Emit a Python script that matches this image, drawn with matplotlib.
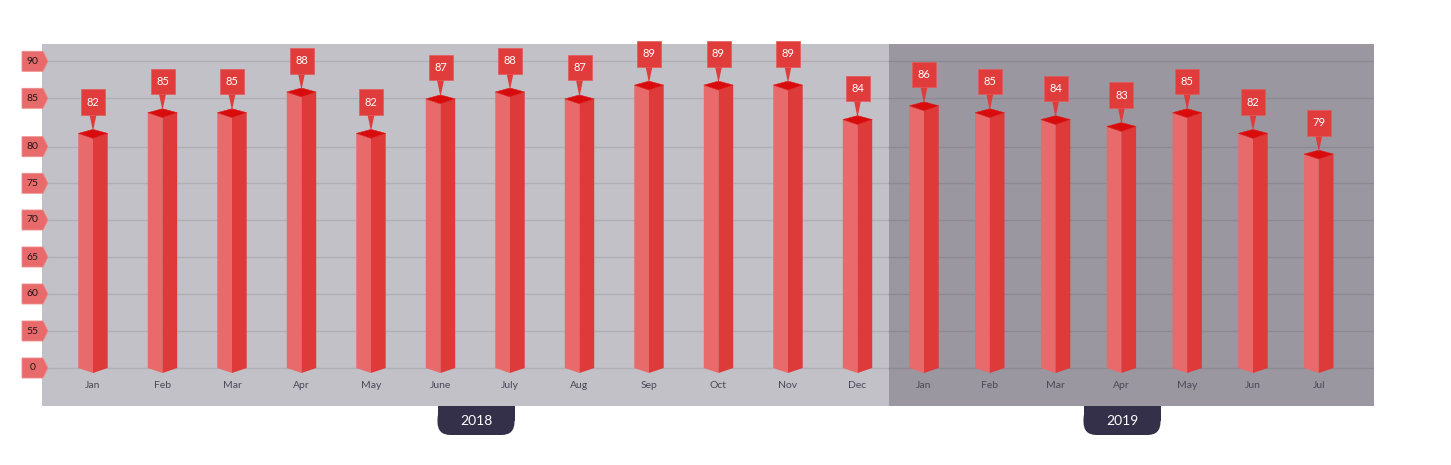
import matplotlib
matplotlib.use("Agg")
import matplotlib.pyplot as plt
from matplotlib.patches import Polygon, Rectangle, FancyBboxPatch
import matplotlib.transforms as mtransforms

# ---- data ----
months_2018 = ["Jan", "Feb", "Mar", "Apr", "May", "June", "July", "Aug", "Sep", "Oct", "Nov", "Dec"]
values_2018 = [82, 85, 85, 88, 82, 87, 88, 87, 89, 89, 89, 84]
months_2019 = ["Jan", "Feb", "Mar", "Apr", "May", "Jun", "Jul"]
values_2019 = [86, 85, 84, 83, 85, 82, 79]
years = ["2018", "2019"]
ytick_labels = ["0", "55", "60", "65", "70", "75", "80", "85", "90"]

# ---- layout (positions / style) ----
W, H = 1451, 465
fig = plt.figure(figsize=(W / 100, H / 100), dpi=100)
fig.patch.set_facecolor("white")
ax_l, ax_r, ax_t, ax_b = 42, 1374, 44, 406
ax = fig.add_axes([ax_l / W, 1 - ax_b / H, (ax_r - ax_l) / W, (ax_b - ax_t) / H])

BASE = 48.0      # value drawn at the bar foot
BASE_PX = 368
ppu = 6.9        # px per y unit
ylo = BASE - (ax_b - BASE_PX) / ppu
yhi = BASE + (BASE_PX - ax_t) / ppu
xpx = 69.5
x0 = -(93 - ax_l) / xpx
x1 = (ax_r - 93) / xpx
ax.set_xlim(x0, x1)
ax.set_ylim(ylo, yhi)
ax.axis("off")

pos_2018 = [i for i in range(len(values_2018))]
pos_2019 = [(924 - 93) / xpx + j * 65.8 / xpx for j in range(len(values_2019))]
split = (889 - 93) / xpx

bg18, bg19 = "#c2c1c7", "#9b97a0"
ax.add_patch(Rectangle((x0, ylo), split - x0, yhi - ylo, facecolor=bg18, edgecolor="none", zorder=0))
ax.add_patch(Rectangle((split, ylo), x1 - split, yhi - ylo, facecolor=bg19, edgecolor="none", zorder=0))

# gridline rows as laid out in the picture (pixel rows)
grid_rows_px = [368, 331, 294, 257, 220, 183.3, 146.7, 98.3, 61.3]
ytick_pos = [BASE + (BASE_PX - p) / ppu for p in grid_rows_px]
for yp in ytick_pos:
    ax.plot([x0, split], [yp, yp], color="#b0afb6", lw=1.0, zorder=1)
    ax.plot([split, x1], [yp, yp], color="#8d8992", lw=1.0, zorder=1)

# y tick tags
tr = mtransforms.blended_transform_factory(ax.transAxes, ax.transData)
axw = ax_r - ax_l
def fx(px):
    return (px - ax_l) / axw
for yp, lab in zip(ytick_pos, ytick_labels):
    hh = 10 / ppu
    tag = Polygon([(fx(22), yp - hh), (fx(43), yp - hh), (fx(48), yp), (fx(43), yp + hh), (fx(22), yp + hh)],
                  closed=True, facecolor="#e86a6a", edgecolor="#f08c8c", lw=0.6,
                  transform=tr, clip_on=False, zorder=3)
    ax.add_patch(tag)
    ax.text(fx(32.5), yp, lab, transform=tr, ha="center", va="center",
            fontsize=7.5, color="#1a1a1a", family="Lato", clip_on=False, zorder=4)

hw = 14.7 / xpx
top_back = 4 / ppu
front_drop = 5 / ppu
box_gap = 18.5 / ppu
box_h = 25.5 / ppu
box_hw = 12 / xpx
ptr_hw = 3.5 / xpx

def draw_bar(x, v, month):
    ax.add_patch(Polygon([(x - hw, v), (x, v - front_drop), (x, BASE - front_drop), (x - hw, BASE)],
                         closed=True, facecolor="#e86a6a", edgecolor="none", zorder=5))
    ax.add_patch(Polygon([(x, v - front_drop), (x + hw, v), (x + hw, BASE), (x, BASE - front_drop)],
                         closed=True, facecolor="#de3a3a", edgecolor="none", zorder=5))
    ax.add_patch(Polygon([(x - hw, v), (x, v + top_back), (x + hw, v), (x, v - front_drop)],
                         closed=True, facecolor="#d80c0c", edgecolor="#e02020", lw=0.4, zorder=6))
    bb = v + box_gap
    ax.add_patch(Polygon([(x - ptr_hw, bb + 0.05), (x + ptr_hw, bb + 0.05), (x, v + 0.3)],
                         closed=True, facecolor="#e03c3c", edgecolor="none", zorder=7, clip_on=False))
    ax.add_patch(Rectangle((x - box_hw, bb), 2 * box_hw, box_h, facecolor="#e03c3c",
                           edgecolor="#e65a5a", lw=0.5, zorder=7, clip_on=False))
    ax.text(x, bb + box_h / 2, str(v), ha="center", va="center", color="white",
            fontsize=8, family="Lato", zorder=8, clip_on=False)
    ax.text(x, BASE - 18 / ppu, month, ha="center", va="center", color="#4a4858",
            fontsize=7.5, family="Lato", zorder=8)

for x, v, m in zip(pos_2018, values_2018, months_2018):
    draw_bar(x, v, m)
for x, v, m in zip(pos_2019, values_2019, months_2019):
    draw_bar(x, v, m)

# year tabs
fig_tr = fig.transFigure
for cx, yr in zip([476, 1122], years):
    left = (cx - 38.5) / W
    wdt = 77 / W
    bot = 1 - 435 / H
    top = 1 - 406 / H
    fig.patches.append(FancyBboxPatch((left, bot), wdt, top - bot,
                                      boxstyle="round,pad=0,rounding_size=0.009",
                                      transform=fig_tr, facecolor="#35304a", edgecolor="none",
                                      mutation_aspect=W / H))
    fig.patches.append(Rectangle((left, (bot + top) / 2), wdt, (top - bot) / 2,
                                 transform=fig_tr, facecolor="#35304a", edgecolor="none"))
    fig.text(cx / W, 1 - 421 / H, yr, ha="center", va="center", color="white",
             fontsize=10, family="Lato")

fig.savefig("out.png", dpi=100, facecolor="white")
